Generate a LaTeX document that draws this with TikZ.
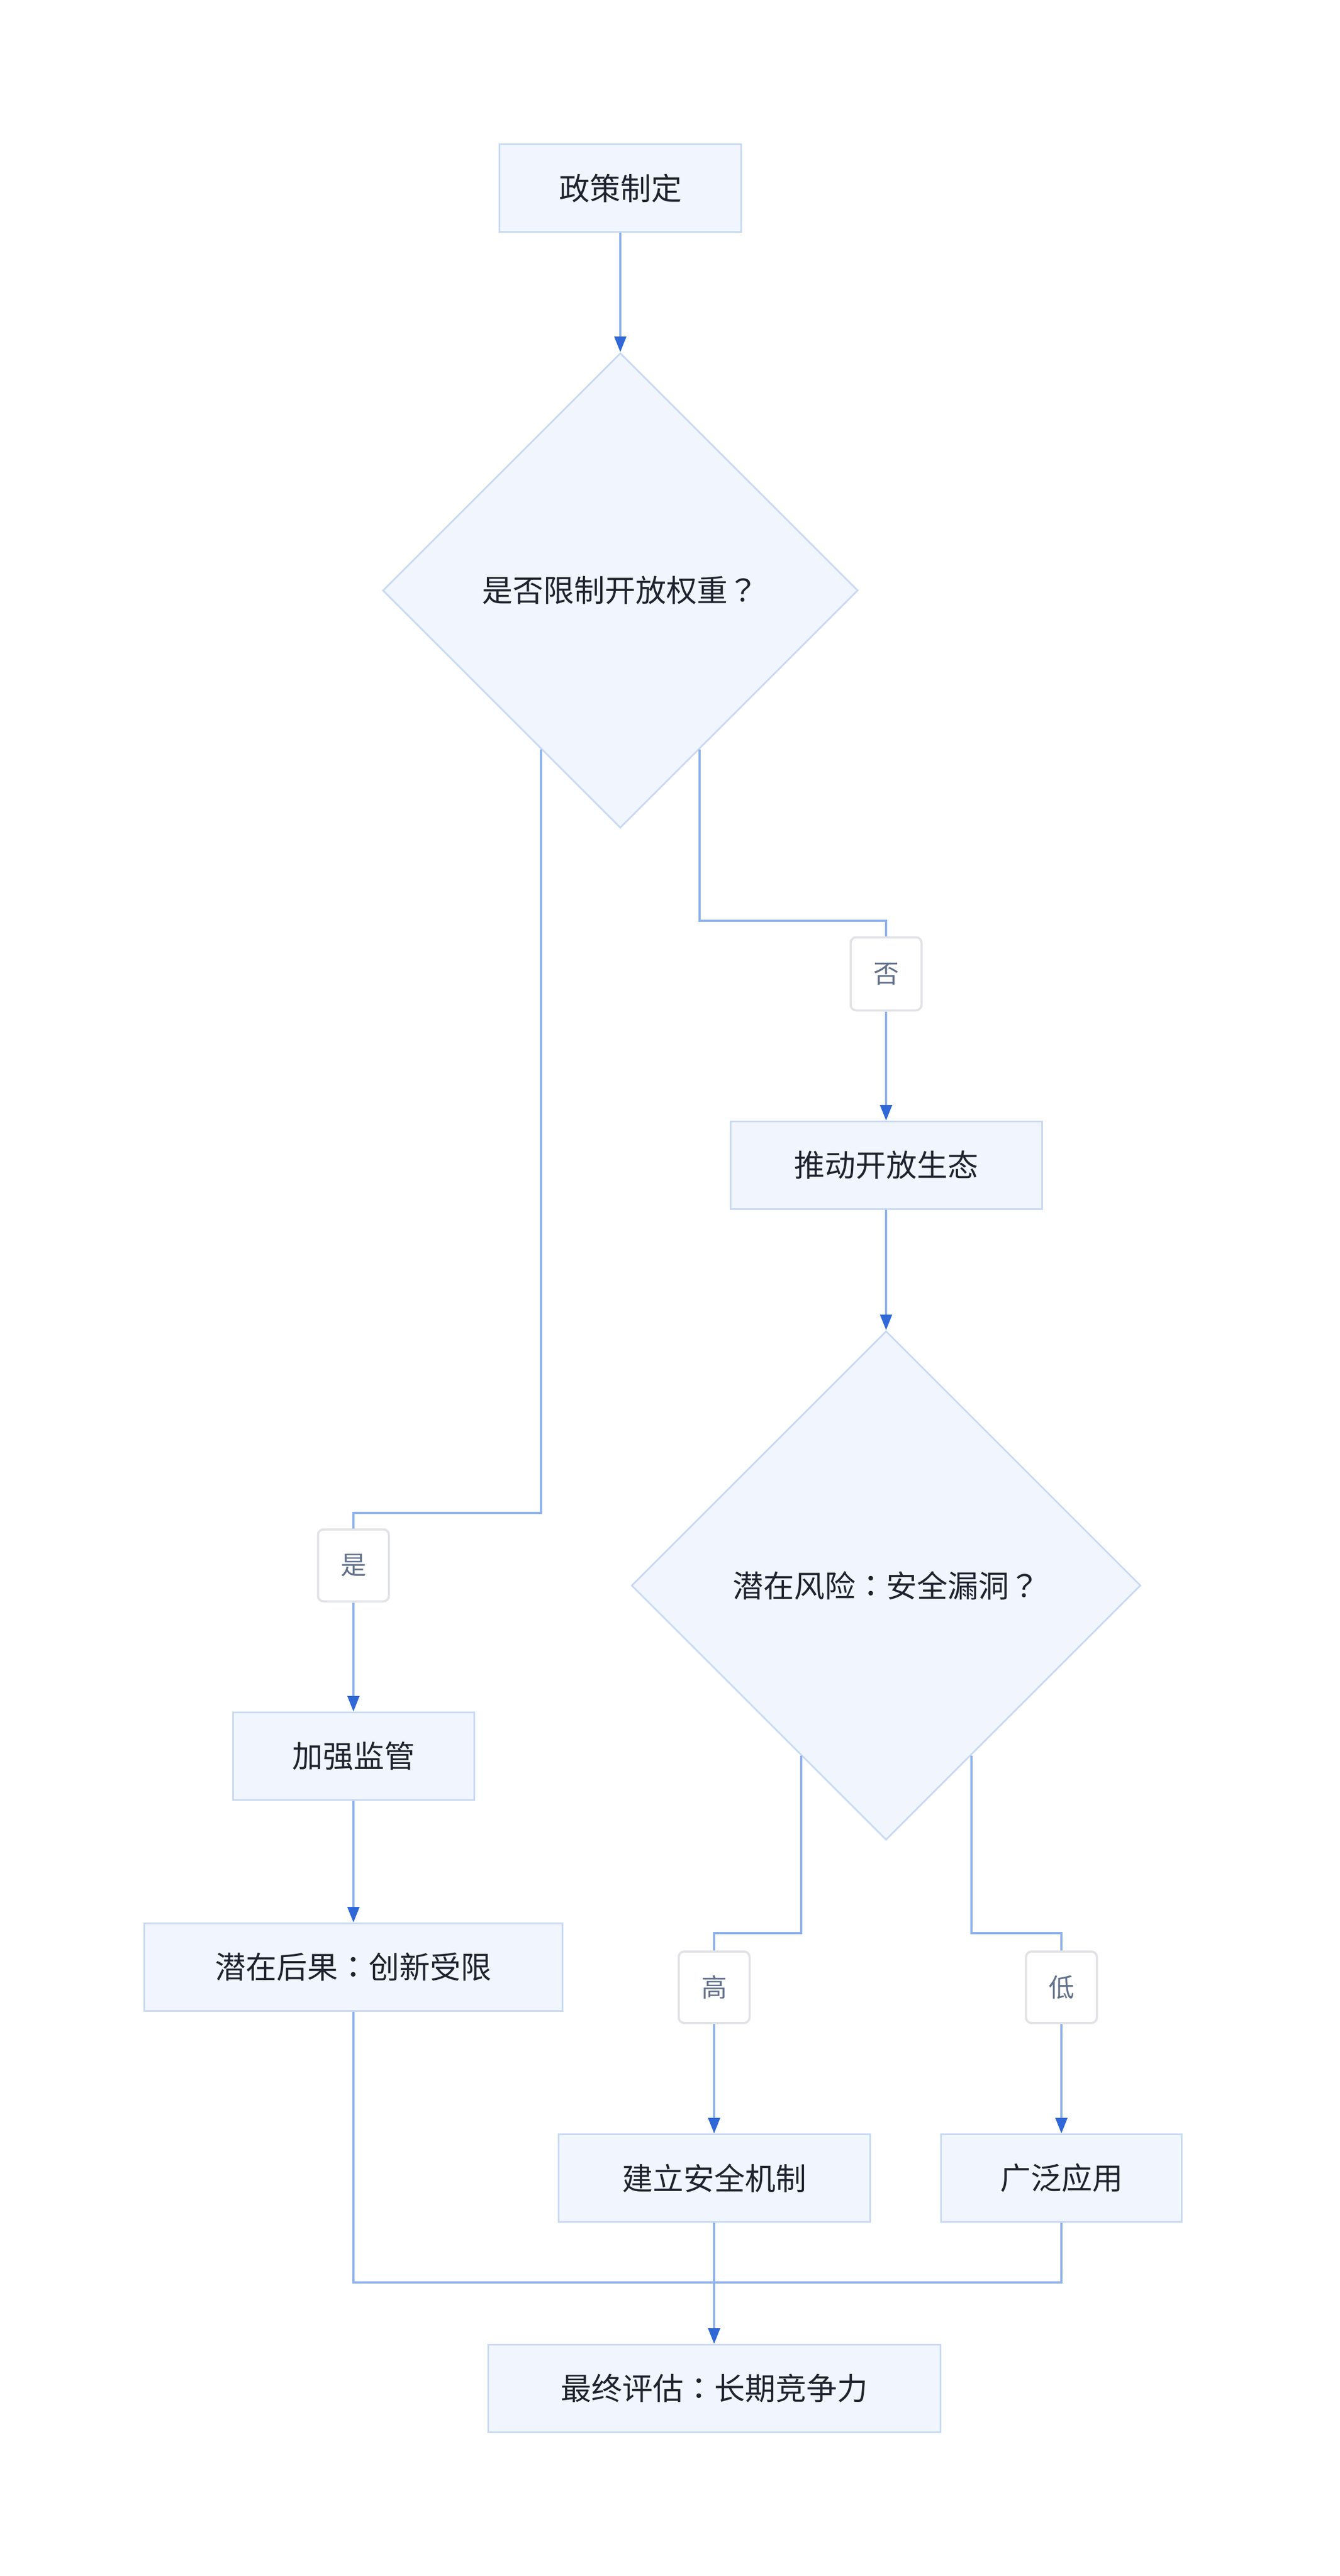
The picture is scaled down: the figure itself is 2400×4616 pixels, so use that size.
\documentclass[tikz,border=0pt]{standalone}
\usepackage{fontspec}
\usetikzlibrary{shapes.geometric,arrows.meta,calc}
\newfontfamily\cjkfont{Noto Sans CJK SC}
\newfontfamily\puncfont{Noto Sans CJK TC}
\newcommand{\colonmark}{{\puncfont ：}}
\newcommand{\askmark}{{\puncfont ？}}
\definecolor{boxfill}{RGB}{240,245,254}
\definecolor{boxline}{RGB}{200,217,243}
\definecolor{edgeline}{RGB}{143,178,237}
\definecolor{tipblue}{RGB}{48,104,216}
\definecolor{labelline}{RGB}{226,227,230}
\definecolor{labeltext}{RGB}{98,113,138}
\definecolor{maintext}{RGB}{31,35,48}
\tikzstyle{block}=[rectangle,
    line width=3pt,
    minimum height=157pt,
    minimum width=433pt,
    draw=boxline,
    fill=boxfill,
    text=maintext,
    font=\cjkfont\fontsize{55pt}{66pt}\selectfont]
\tikzstyle{decision}=[diamond,
    aspect=1,
    inner sep=0pt,
    line width=3pt,
    draw=boxline,
    fill=boxfill,
    text=maintext,
    font=\cjkfont\fontsize{55pt}{66pt}\selectfont]
\tikzstyle{choice}=[rectangle,
    rounded corners=10pt,
    line width=4pt,
    minimum height=129pt,
    minimum width=127pt,
    draw=labelline,
    fill=white,
    text=labeltext,
    font=\cjkfont\fontsize{46pt}{55pt}\selectfont]
\tikzstyle{wire}=[line width=4pt, draw=edgeline]
\tikzstyle{flow}=[wire, -{Triangle[length=28pt,width=21pt,color=tipblue]}]

\begin{document}
\begin{tikzpicture}[x=1pt,y=1pt]
                \useasboundingbox (0,0) rectangle (2400,-4616);
                \node (policy) [block] at (1111,-337) {政策制定};
                \node (q1) [decision,minimum width=851pt,minimum height=851pt] at (1111,-1058) {是否限制开放权重\askmark};
                \node (no) [choice,minimum height=131pt] at (1587,-1745) {否};
                \node (ecosystem) [block,minimum width=558pt] at (1587,-2088) {推动开放生态};
                \node (q2) [decision,minimum width=912pt,minimum height=912pt] at (1587,-2841) {潜在风险\colonmark 安全漏洞\askmark};
                \node (yes) [choice] at (633,-2805) {是};
                \node (strengthen) [block,minimum width=432pt] at (633,-3147) {加强监管};
                \node (consequence) [block,minimum width=749pt] at (633,-3525) {潜在后果\colonmark 创新受限};
                \node (high) [choice,minimum height=128pt] at (1279,-3561) {高};
                \node (low) [choice,minimum height=128pt] at (1901,-3561) {低};
                \node (mechanism) [block,minimum width=558pt] at (1279,-3903) {建立安全机制};
                \node (adoption) [block,minimum width=431pt] at (1901,-3903) {广泛应用};
                \node (final) [block,minimum width=810pt] at (1279,-4280) {最终评估\colonmark 长期竞争力};
                \coordinate (q1yes) at ($(q1.west)!2/3!(q1.south)$);
                \coordinate (q1no) at ($(q1.east)!2/3!(q1.south)$);
                \coordinate (q2high) at ($(q2.west)!2/3!(q2.south)$);
                \coordinate (q2low) at ($(q2.east)!2/3!(q2.south)$);
                \coordinate (merge) at (1279,-4090);
                \draw [flow] (policy) -- (q1);
                \draw [wire] (q1yes) |- ([yshift=28pt]yes.north) -- (yes.north);
                \draw [flow] (yes) -- (strengthen);
                \draw [flow] (strengthen) -- (consequence);
                \draw [wire] (q1no) |- ([yshift=28pt]no.north) -- (no.north);
                \draw [flow] (no) -- (ecosystem);
                \draw [flow] (ecosystem) -- (q2);
                \draw [wire] (q2high) |- ([yshift=31pt]high.north) -- (high.north);
                \draw [flow] (high) -- (mechanism);
                \draw [wire] (q2low) |- ([yshift=31pt]low.north) -- (low.north);
                \draw [flow] (low) -- (adoption);
                \draw [wire] (consequence.south) |- (merge) -| (adoption.south);
                \draw [flow] (mechanism) -- (final);
            \end{tikzpicture}
\end{document}
